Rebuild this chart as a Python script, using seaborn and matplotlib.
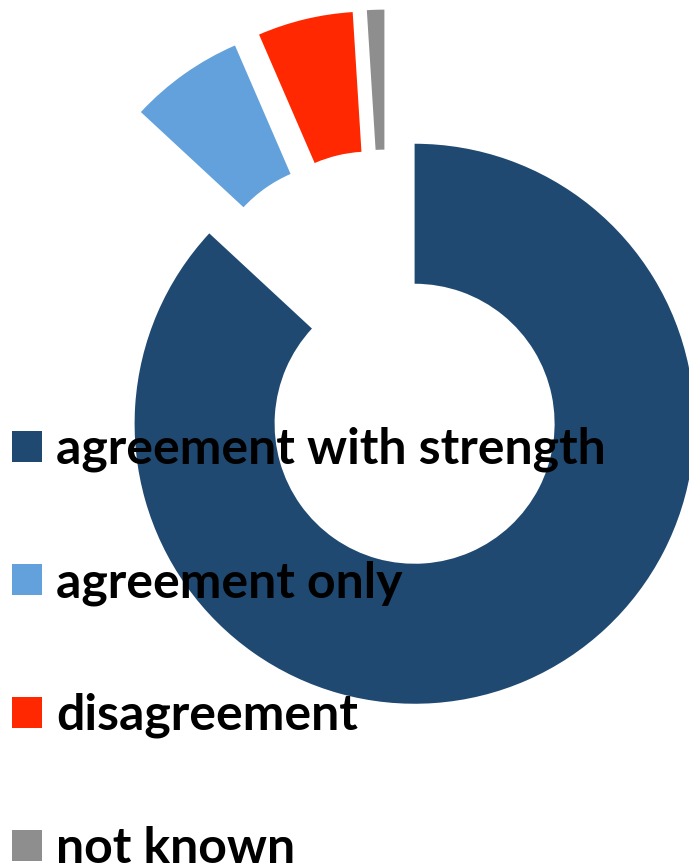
import matplotlib
matplotlib.use("Agg")
import matplotlib.pyplot as plt
import seaborn as sns

categories = ["agreement with strength", "agreement only", "disagreement", "not known"]
values = [86.9, 6.6, 5.5, 1.0]
colors = ["#1F4971", "#63A1DC", "#FF2800", "#8E8E8E"]

sns.set_theme(style="white")
plt.rcParams['font.family'] = ['Lato', 'DejaVu Sans']

fig = plt.figure(figsize=(6.89, 8.66), dpi=100)
ax = fig.add_axes([0, 0, 1, 1])

wedges, _ = ax.pie(values, colors=colors, startangle=90, counterclock=False,
                   explode=[0.25] * len(values), radius=1.0,
                   wedgeprops=dict(width=0.5, linewidth=0))

cx, cy, scale = 386.6, 359.6, 280.0
ax.set_xlim(-cx / scale, (689 - cx) / scale)
ax.set_ylim(-(866 - cy) / scale, cy / scale)
ax.set_aspect('auto')
ax.axis('off')

fs = 36
leg = fig.legend(wedges, categories, loc="upper left",
                 bbox_to_anchor=(12 / 689, 1 - 427 / 866),
                 frameon=False, borderpad=0, borderaxespad=0,
                 prop=dict(size=fs, weight="bold"), labelcolor="black",
                 handlelength=0.6, handleheight=0.6, handletextpad=0.28,
                 labelspacing=1.75)

fig.savefig("out.png", dpi=100)
